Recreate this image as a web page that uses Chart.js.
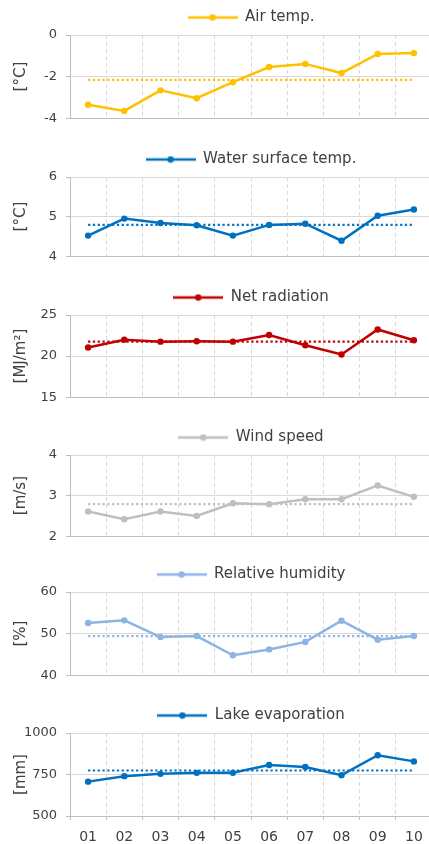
<!DOCTYPE html>
<html>
<head>
<meta charset="utf-8">
<script src="https://cdn.jsdelivr.net/npm/chart.js@4"></script>
<style>
html, body { margin: 0; padding: 0; overflow: hidden; background: #fff; }
#wrap { position: relative; width: 429px; height: 844px; overflow: hidden; }
#wrap canvas { position: absolute; left: 0; }
</style>
</head>
<body>
<div id="wrap"></div>
<script>
// x categories
const months = ['01', '02', '03', '04', '05', '06', '07', '08', '09', '10'];

// series
const airTemp = [-3.35, -3.65, -2.66, -3.04, -2.27, -1.54, -1.39, -1.83, -0.91, -0.87];
const waterTemp = [4.52, 4.95, 4.84, 4.78, 4.52, 4.79, 4.82, 4.39, 5.02, 5.18];
const netRadiation = [21.04, 22.0, 21.76, 21.8, 21.76, 22.56, 21.32, 20.2, 23.24, 21.92];
const windSpeed = [2.61, 2.42, 2.61, 2.5, 2.81, 2.79, 2.91, 2.91, 3.25, 2.97];
const humidity = [52.55, 53.18, 49.18, 49.41, 44.78, 46.2, 48.0, 53.1, 48.55, 49.41];
const evaporation = [707, 740, 754, 760, 760, 807, 795, 746, 866, 829];

// dotted mean lines
const means = [-2.16, 4.79, 21.76, 2.79, 49.4, 774];

// names, units and y ticks
const seriesNames = ['Air temp.', 'Water surface temp.', 'Net radiation', 'Wind speed', 'Relative humidity', 'Lake evaporation'];
const units = ['[°C]', '[°C]', '[MJ/m²]', '[m/s]', '[%]', '[mm]'];
const yMin = [-4, 4, 15, 2, 40, 500];
const yMax = [0, 6, 25, 4, 60, 1000];
const yStep = [2, 1, 5, 1, 10, 250];

const allSeries = [airTemp, waterTemp, netRadiation, windSpeed, humidity, evaporation];
const colors = ['#FFC000', '#0070C0', '#C00000', '#BFBFBF', '#8EB4E3', '#0070C0'];

// where each panel canvas sits (top, height)
const panelBoxes = [[5, 130], [147, 126], [285, 129], [425, 128], [562, 130], [703, 141]];

const FONT = 'DejaVu Sans';
const TEXT = '#404040';

function legendMarker(color) {
    const c = document.createElement('canvas');
    c.width = 50;
    c.height = 8;
    const g = c.getContext('2d');
    g.strokeStyle = color;
    g.lineWidth = 2.5;
    g.beginPath();
    g.moveTo(0, 4);
    g.lineTo(50, 4);
    g.stroke();
    g.fillStyle = color;
    g.beginPath();
    g.arc(25, 4, 3.2, 0, Math.PI * 2);
    g.fill();
    return c;
}

const wrap = document.getElementById('wrap');

allSeries.forEach((series, i) => {
    const last = i === allSeries.length - 1;
    const [top, height] = panelBoxes[i];
    const canvas = document.createElement('canvas');
    canvas.width = 436;
    canvas.height = height;
    canvas.style.top = top + 'px';
    wrap.appendChild(canvas);

    new Chart(canvas.getContext('2d'), {
        type: 'line',
        data: {
            labels: months,
            datasets: [{
                label: seriesNames[i],
                data: series,
                borderColor: colors[i],
                backgroundColor: colors[i],
                borderWidth: 2.5,
                pointRadius: 3.2,
                pointBorderWidth: 0,
                pointBackgroundColor: colors[i],
                tension: 0
            }, {
                label: 'mean',
                data: months.map(() => means[i]),
                borderColor: colors[i],
                borderWidth: 2.2,
                borderDash: [2.2, 2.6],
                borderCapStyle: 'butt',
                pointRadius: 0,
                tension: 0
            }]
        },
        options: {
            responsive: false,
            animation: false,
            layout: { padding: { top: 0, bottom: last ? 0 : 2, left: 0, right: 0 } },
            plugins: {
                tooltip: { enabled: false },
                legend: {
                    position: 'top',
                    fullSize: false,
                    labels: {
                        usePointStyle: true,
                        pointStyle: legendMarker(colors[i]),
                        pointStyleWidth: 50,
                        padding: 5,
                        color: TEXT,
                        font: { family: FONT, size: 15 },
                        filter: item => item.datasetIndex === 0
                    }
                }
            },
            scales: {
                x: {
                    type: 'category',
                    offset: true,
                    afterFit: s => { s.height = last ? 28 : 0; },
                    grid: {
                        offset: true,
                        color: '#d9d9d9',
                        drawTicks: last,
                        tickLength: 4,
                        tickColor: '#bfbfbf'
                    },
                    border: { color: '#bfbfbf', dash: [4, 3] },
                    ticks: {
                        display: last,
                        color: TEXT,
                        font: { family: FONT, size: 14 },
                        padding: 9,
                        maxRotation: 0
                    }
                },
                y: {
                    min: yMin[i],
                    max: yMax[i],
                    afterFit: s => { s.width = 70; },
                    grid: { color: '#d9d9d9', tickLength: 4, tickColor: '#bfbfbf' },
                    border: { color: '#bfbfbf' },
                    ticks: {
                        stepSize: yStep[i],
                        color: TEXT,
                        font: { family: FONT, size: 13 },
                        padding: 9,
                        callback: v => String(v)
                    },
                    title: {
                        display: true,
                        text: units[i],
                        color: TEXT,
                        font: { family: FONT, size: 15 },
                        padding: { top: 12, bottom: 0 }
                    }
                }
            }
        }
    });
});
</script>
</body>
</html>
